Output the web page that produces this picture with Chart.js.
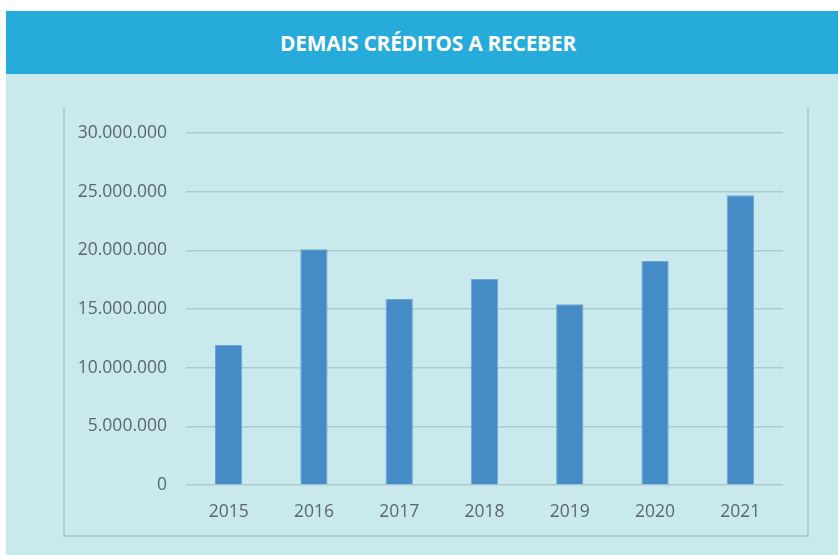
<!DOCTYPE html>
<html>
<head>
<meta charset="utf-8">
<script src="https://cdn.jsdelivr.net/npm/chart.js@4/dist/chart.umd.min.js"></script>
<style>
  html, body { margin: 0; padding: 0; background: #fff; }
  body { width: 838px; height: 555px; position: relative; overflow: hidden; font-family: 'Open Sans', sans-serif; }
  .header {
    position: absolute; left: 6px; top: 11px; width: 844px; height: 63px;
    background: #26abdb; color: #fff; font-weight: 700; font-size: 21px;
    display: flex; align-items: center; justify-content: center; letter-spacing: -0.3px;
  }
  .panel { position: absolute; left: 6px; top: 74px; width: 832px; height: 481px; background: #c9e9ec; }
  .frame {
    position: absolute; left: 63px; top: 108px; width: 742px; height: 427px;
    border-left: 2px solid #afcdd0; border-right: 2px solid #afcdd0; border-bottom: 2px solid #afcdd0;
  }
  #chart { position: absolute; left: 0; top: 0; }
</style>
</head>
<body>
<div class="header">DEMAIS CRÉDITOS A RECEBER</div>
<div class="panel"></div>
<div class="frame"></div>
<canvas id="chart" width="838" height="555"></canvas>
<script>
const years = ['2015', '2016', '2017', '2018', '2019', '2020', '2021'];
const values = [11930000, 20100000, 15850000, 17550000, 15400000, 19100000, 24700000];
const yTicks = [0, 5000000, 10000000, 15000000, 20000000, 25000000, 30000000];

const fmt = (v) => v.toLocaleString('de-DE');

new Chart(document.getElementById('chart'), {
  type: 'bar',
  data: {
    labels: years,
    datasets: [{
      data: values,
      backgroundColor: '#458bc6',
      borderColor: '#6ea6d4',
      borderWidth: 1,
      barPercentage: 0.32,
      categoryPercentage: 1,
    }],
  },
  options: {
    responsive: false,
    animation: false,
    events: [],
    layout: { padding: { top: 133, right: 55, left: 0, bottom: 0 } },
    plugins: { legend: { display: false }, tooltip: { enabled: false } },
    scales: {
      x: {
        grid: { display: false },
        border: { display: false },
        ticks: { color: '#5b676d', font: { family: 'Open Sans', size: 17.5 }, padding: 9 },
        afterFit: (s) => { s.height = 70; },
      },
      y: {
        min: 0,
        max: 30000000,
        afterBuildTicks: (s) => { s.ticks = yTicks.map((v) => ({ value: v })); },
        grid: { color: '#a9cbce', lineWidth: 1.6, drawTicks: false },
        border: { display: false },
        ticks: { color: '#5b676d', font: { family: 'Open Sans', size: 17.5 }, padding: 19, callback: (v) => fmt(v) },
        afterFit: (s) => { s.width = 186; },
      },
    },
  },
});
</script>
</body>
</html>
